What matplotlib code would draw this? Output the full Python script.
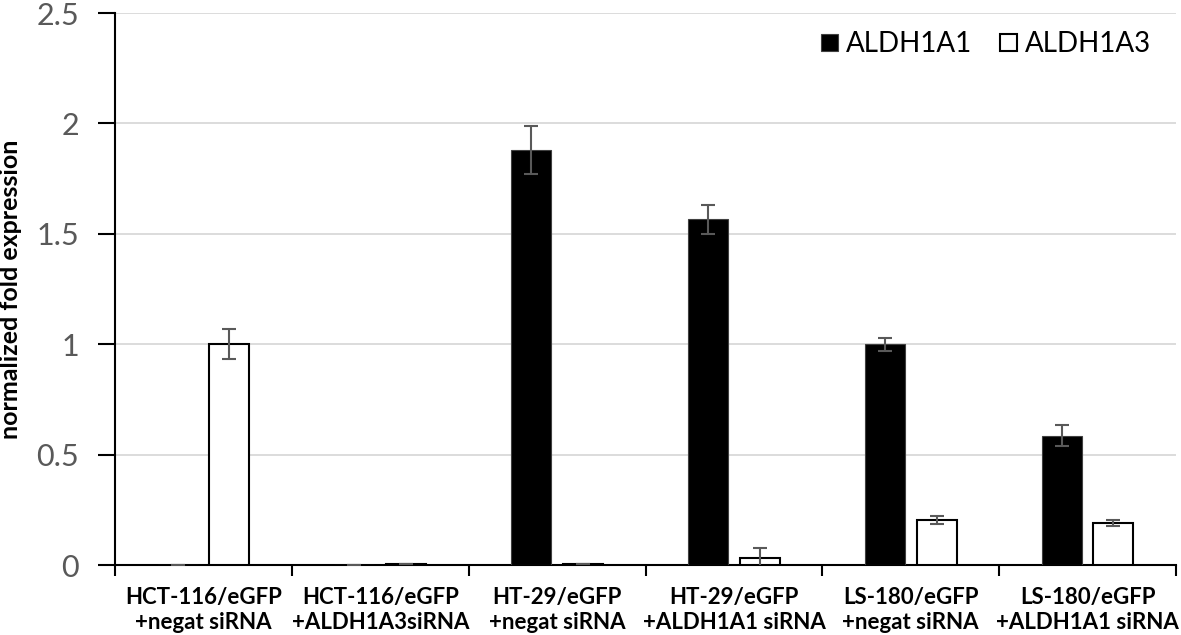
import numpy as np
import matplotlib
matplotlib.use("Agg")
from matplotlib import pyplot as plt

categories = ["HCT-116/eGFP\n+negat siRNA", "HCT-116/eGFP\n+ALDH1A3siRNA",
              "HT-29/eGFP\n+negat siRNA", "HT-29/eGFP\n+ALDH1A1 siRNA",
              "LS-180/eGFP\n+negat siRNA", "LS-180/eGFP\n+ALDH1A1 siRNA"]
aldh1a1 = [0.0, 0.0, 1.88, 1.565, 1.0, 0.585]
aldh1a1_err = [0.0, 0.0, 0.11, 0.065, 0.03, 0.047]
aldh1a3 = [1.0, 0.003, 0.005, 0.03, 0.205, 0.19]
aldh1a3_err = [0.068, 0.0, 0.0, 0.045, 0.017, 0.013]
yticks = [0, 0.5, 1, 1.5, 2, 2.5]
ytick_labels = ["0", "0.5", "1", "1.5", "2", "2.5"]

plt.rcParams['font.family'] = ['Lato', 'DejaVu Sans']

fig = plt.figure(figsize=(11.81, 6.35), dpi=100)
ax = fig.add_axes([0.0974, 0.1102, 0.8984, 0.8693])

x = np.arange(len(categories))
w = 0.226
off = 0.146
grey = "#595959"

ax.bar(x - off, aldh1a1, w, color="black", edgecolor="#404040", linewidth=0.8,
       label="ALDH1A1", zorder=3)
ax.bar(x + off, aldh1a3, w, color="white", edgecolor="black", linewidth=1.5,
       label="ALDH1A3", zorder=3)
ax.errorbar(x - off, aldh1a1, yerr=aldh1a1_err, fmt="none", ecolor=grey,
            elinewidth=1.5, capsize=5, capthick=1.5, zorder=4)
ax.errorbar(x + off, aldh1a3, yerr=aldh1a3_err, fmt="none", ecolor=grey,
            elinewidth=1.5, capsize=5, capthick=1.5, zorder=4)

ax.set_xlim(-0.5, len(categories) - 0.5)
ax.set_ylim(0, 2.5)
ax.set_yticks(yticks)
ax.set_yticklabels(ytick_labels, fontsize=22, color=grey)
ax.yaxis.grid(True, color="#d9d9d9", linewidth=1.3, zorder=0)
ax.set_axisbelow(True)

ax.set_xticks(x)
ax.set_xticklabels(categories, fontsize=16, fontweight="bold", color="black",
                   linespacing=1.25)
ax.tick_params(axis="x", which="major", length=0, pad=16)
ax.set_xticks(np.arange(-0.5, len(categories)), minor=True)
ax.tick_params(axis="x", which="minor", length=8, width=1.5, color="black")
ax.tick_params(axis="y", length=12, width=1.5, color="black", pad=14)

for s in ["top", "right"]:
    ax.spines[s].set_visible(False)
ax.spines["left"].set_linewidth(1.5)
ax.spines["bottom"].set_linewidth(1.5)

ax.set_ylabel("normalized fold expression", fontsize=18, fontweight="bold",
              labelpad=10)
ax.legend(loc="upper right", ncol=2, frameon=False, fontsize=20,
          handlelength=0.6, handleheight=0.6, handletextpad=0.3,
          columnspacing=1.0, bbox_to_anchor=(1.0, 1.012))

fig.savefig("out.png", dpi=100)
